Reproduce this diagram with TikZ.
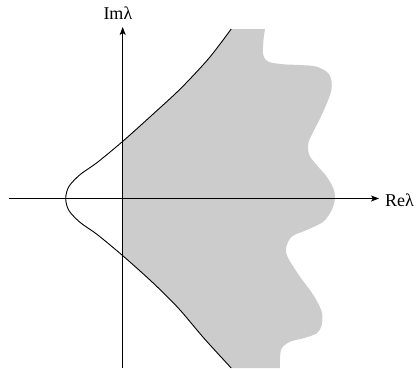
\documentclass[tikz,border=0pt]{standalone}
\usepackage{fontspec}
\setmainfont{Liberation Serif}
\usetikzlibrary{arrows.meta}
\begin{document}
\begin{tikzpicture}[x=1pt,y=-1pt,
  axis/.style={line width=0.8pt,-{Stealth[length=8pt,width=6pt,inset=2pt]}},
  bound/.style={line width=0.9pt},
  region/.style={fill=black!20},
  lbl/.style={font=\fontsize{18}{20}\selectfont,inner sep=0pt}]
\useasboundingbox (0,0) rectangle (419,370);
\def\curvepts{(231.2,29) (208.7,58.5) (180.7,88.5) (153.7,113.5) (123.7,140.5)
  (97.2,162.5) (80.2,174.5) (68.9,186.5) (65.7,198.5) (68.9,210.5) (80.2,222.5)
  (97.2,234.5) (123.7,256.5) (153.7,283.5) (178.7,308.5) (204.2,338.5) (231.2,368)}
% shaded region (only right of the imaginary axis)
\begin{scope}
\clip (122.7,0) rectangle (419,370);
\fill[region] plot[smooth] coordinates {\curvepts}
  -- plot[smooth,tension=0.55] coordinates {
  (280,368) (280,358.3) (281.7,348.3) (290,341.7) (303.3,338.3) (316.7,333.3)
  (321.7,325) (321.7,311.7) (313.3,295) (300,276.7) (288.3,258.3) (286,248.3)
  (291.7,236.7) (306.7,230) (323.3,221.7) (331.7,210) (335,198.3) (333.3,188.3)
  (326.7,176.7) (316.7,165) (309.3,155) (308.3,143.3) (313.3,131.7) (321.7,115)
  (330,95) (331.7,83.3) (328.3,73.3) (316.7,66.7) (300,65) (283.3,64.3)
  (268.3,61.7) (263.3,55) (263.3,41.7) (265,29)} -- cycle;
\end{scope}
% axes
\coordinate (xs) at (9,198.5);
\coordinate (xe) at (379,198.5);
\coordinate (ys) at (122.7,368);
\coordinate (ye) at (122.7,27);
\draw[axis] (xs) -- (xe);
\draw[axis] (ys) -- (ye);
\node[lbl,anchor=base west] (re) at (385,206) {Reλ};
\node[lbl,anchor=base west] (im) at (103.3,19.5) {Imλ};
% boundary curve
\draw[bound] plot[smooth] coordinates {\curvepts};
\end{tikzpicture}
\end{document}
